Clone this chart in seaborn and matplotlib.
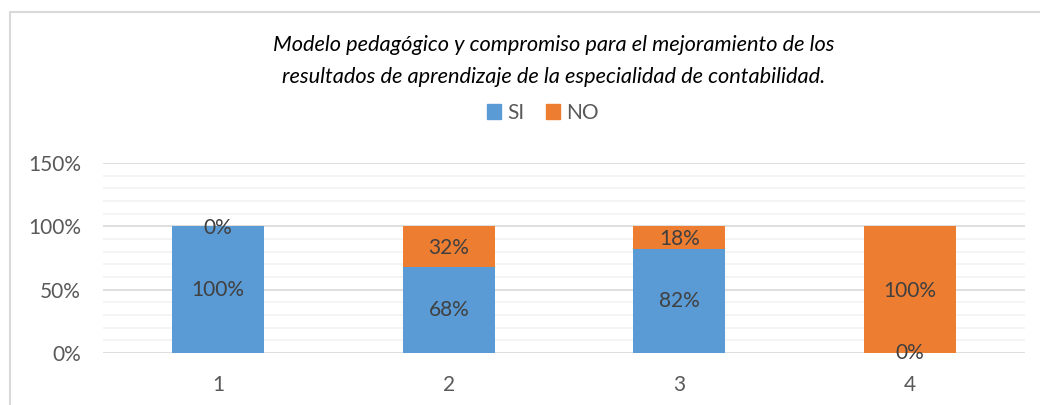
import numpy as np
import pandas as pd
import matplotlib.pyplot as plt
import seaborn as sns
from matplotlib.patches import Rectangle
from matplotlib.ticker import MultipleLocator, PercentFormatter

# data
categories = ['1', '2', '3', '4']
si_values = [100, 68, 82, 0]
no_values = [0, 32, 18, 100]

title = ('Modelo pedagógico y compromiso para el mejoramiento de los\n'
         'resultados de aprendizaje de la especialidad de contabilidad.')

BLUE = '#5B9BD5'
ORANGE = '#ED7D31'
TICK_GRAY = '#595959'
LABEL_GRAY = '#404040'

sns.set_style('white')
plt.rcParams['font.family'] = ['Lato', 'DejaVu Sans']

df = pd.DataFrame({'cat': categories, 'SI': si_values, 'NO': no_values})
df['total'] = df['SI'] + df['NO']

fig = plt.figure(figsize=(10.4, 4.05), dpi=100)
ax = fig.add_axes([103 / 1040, 1 - 353 / 405, 922 / 1040, 190 / 405])

# stacked bars: full height in orange, SI drawn over it in blue
sns.barplot(data=df, x='cat', y='total', color=ORANGE, width=0.4,
            saturation=1, linewidth=0, ax=ax, zorder=3)
sns.barplot(data=df, x='cat', y='SI', color=BLUE, width=0.4,
            saturation=1, linewidth=0, ax=ax, zorder=3)

# labels in the middle of each segment
for i, (s, n) in enumerate(zip(si_values, no_values)):
    ax.text(i, s / 2, f'{s}%', ha='center', va='center',
            fontsize=15, color=LABEL_GRAY, zorder=5)
    ax.text(i, s + n / 2 - 1, f'{n}%', ha='center', va='center',
            fontsize=15, color=LABEL_GRAY, zorder=5)

ax.set_ylim(0, 150)
ax.set_xlim(-0.5, 3.5)
ax.yaxis.set_major_locator(MultipleLocator(50))
ax.yaxis.set_minor_locator(MultipleLocator(10))
ax.yaxis.set_major_formatter(PercentFormatter(decimals=0))
ax.grid(axis='y', which='major', color='#D9D9D9', linewidth=1.2, zorder=0)
ax.grid(axis='y', which='minor', color='#F2F2F2', linewidth=1.2, zorder=0)
ax.set_axisbelow(True)
for sp in ax.spines.values():
    sp.set_visible(False)
ax.tick_params(axis='both', which='both', length=0, labelsize=15,
               labelcolor=TICK_GRAY)
ax.tick_params(axis='y', pad=16)
ax.tick_params(axis='x', pad=16)
ax.set_xlabel('')
ax.set_ylabel('')

fig.text(0.532, 1 - 61 / 405, title, ha='center', va='center',
         fontsize=15.7, style='italic', color='black', linespacing=1.7)

handles = [Rectangle((0, 0), 1, 1, color=BLUE),
           Rectangle((0, 0), 1, 1, color=ORANGE)]
fig.legend(handles, ['SI', 'NO'], loc='center',
           bbox_to_anchor=(0.522, 1 - 113 / 405), ncol=2, frameon=False,
           fontsize=15, handlelength=0.7, handleheight=0.7,
           handletextpad=0.3, columnspacing=1.0, labelcolor=TICK_GRAY)

# chart border (cropped on right/bottom in the reference)
fig.patches.append(Rectangle((10 / 1040, -0.1), 1.2, 1 - 12 / 405 + 0.1,
                             transform=fig.transFigure, fill=False,
                             edgecolor='#D9D9D9', linewidth=1.5))

fig.savefig('out.png', dpi=100)
